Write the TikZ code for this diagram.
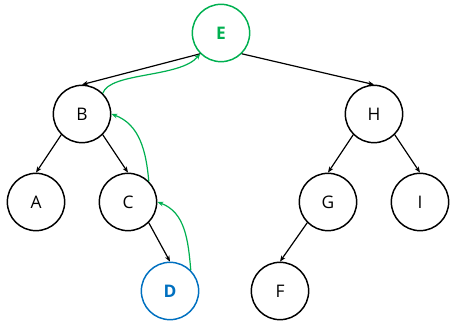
\documentclass[tikz,border=0pt]{standalone}
\usepackage{fontspec}
\setmainfont{Open Sans}
\usetikzlibrary{arrows.meta}
\definecolor{treegreen}{HTML}{00B050}
\definecolor{treeblue}{HTML}{0070C0}

\begin{document}
\begin{tikzpicture}[
    x=0.75pt, y=-0.75pt,
    every node/.style={font=\fontsize{13}{15}\selectfont},
    vertex/.style={draw, circle, minimum size=43pt, inner sep=0pt, line width=1.1pt},
    edge/.style={-{Stealth[length=4.5pt, width=3.5pt]}, line width=0.9pt},
    back/.style={-{Stealth[length=4.5pt, width=3.5pt]}, line width=0.9pt, treegreen}
]
    \useasboundingbox (0,0) rectangle (455,324);

    \node[vertex, draw=treegreen, text=treegreen, font=\fontsize{13}{15}\selectfont\bfseries] (e) at (221,33) {E};
    \node[vertex] (b) at (82,114) {B};
    \node[vertex] (h) at (374,114) {H};
    \node[vertex] (a) at (36,202) {A};
    \node[vertex] (c) at (128,202) {C};
    \node[vertex] (g) at (328,202) {G};
    \node[vertex] (i) at (420,202) {I};
    \node[vertex, draw=treeblue, text=treeblue, font=\fontsize{13}{15}\selectfont\bfseries] (d) at (170,291) {D};
    \node[vertex] (f) at (280,291) {F};

    \draw[edge] (e.south west) -- (b.north);
    \draw[edge] (e.south east) -- (h.north);
    \draw[edge] (b.south west) -- (a.north);
    \draw[edge] (b.south east) -- (c.north);
    \draw[edge] (c.south east) -- (d.north);
    \draw[edge] (h.south west) -- (g.north);
    \draw[edge] (h.south east) -- (i.north);
    \draw[edge] (g.south west) -- (f.north);

    \draw[back] (b.north east) .. controls (110,72) and (180,78) .. (e.south west);
    \draw[back] (c.north east) to[out=95, in=-20] (b.east);
    \draw[back] (d.north east) to[out=95, in=-20] (c.east);
\end{tikzpicture}
\end{document}
